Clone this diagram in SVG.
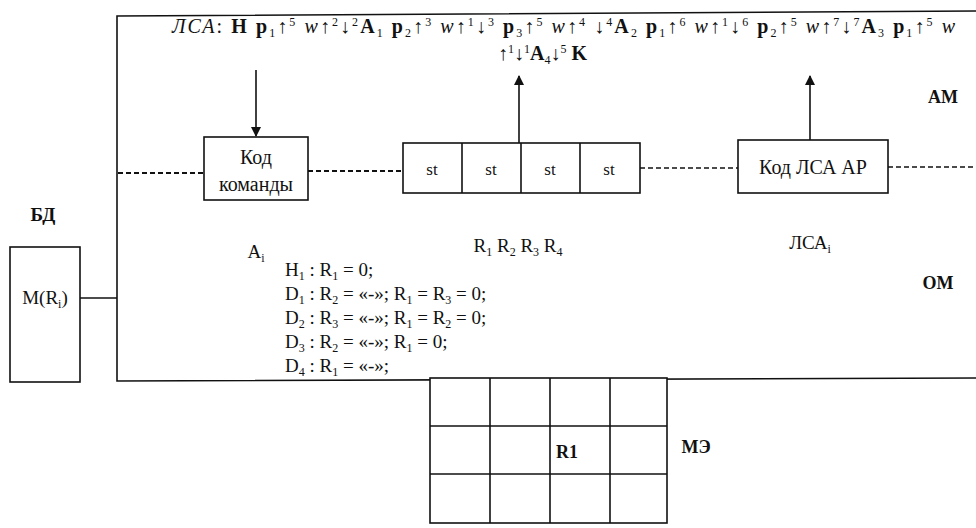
<svg xmlns="http://www.w3.org/2000/svg" width="976" height="528" viewBox="0 0 976 528">
<defs>
<marker id="ah" viewBox="0 0 10 10" refX="9" refY="5" markerWidth="10" markerHeight="11" markerUnits="userSpaceOnUse" orient="auto">
<path d="M0,0 L10,5 L0,10 z" fill="#111"/>
</marker>
<style>
.b{font-weight:bold}
.i{font-style:italic}
.s{font-size:12px}
.s12{font-size:12px}
.lbl{font-weight:bold}
.box{fill:#fff;stroke:#111;stroke-width:1.6}
.ln{fill:none;stroke:#111;stroke-width:1.6}
.dash{fill:none;stroke:#111;stroke-width:2;stroke-dasharray:5 3}
.dash2{fill:none;stroke:#111;stroke-width:1.3;stroke-dasharray:5 3}
.arr{fill:none;stroke:#111;stroke-width:1.6;marker-end:url(#ah)}
</style>
</defs>
<rect width="976" height="528" fill="#fff"/>

<g id="frame">
<path class="ln" d="M976,11 L117,16 L117,381 L976,378"/>
</g>

<g font-family="Liberation Serif, DejaVu Serif, serif" font-size="19" fill="#111">
<g id="lsa">
<text x="172" y="33" font-size="20" textLength="783" lengthAdjust="spacing"><tspan class="i">ЛСА</tspan>: <tspan class="b">Н p</tspan><tspan class="s12" dy="4">1</tspan><tspan dy="-4">↑</tspan><tspan class="s12" dy="-7">5</tspan><tspan dy="7"> </tspan><tspan class="i">w</tspan>↑<tspan class="s12" dy="-7">2</tspan><tspan dy="7">↓</tspan><tspan class="s12" dy="-7">2</tspan><tspan class="b" dy="7">A</tspan><tspan class="s12" dy="4">1</tspan><tspan class="b" dy="-4"> p</tspan><tspan class="s12" dy="4">2</tspan><tspan dy="-4">↑</tspan><tspan class="s12" dy="-7">3</tspan><tspan dy="7"> </tspan><tspan class="i">w</tspan>↑<tspan class="s12" dy="-7">1</tspan><tspan dy="7">↓</tspan><tspan class="s12" dy="-7">3</tspan><tspan class="b" dy="7"> p</tspan><tspan class="s12" dy="4">3</tspan><tspan dy="-4">↑</tspan><tspan class="s12" dy="-7">5</tspan><tspan dy="7"> </tspan><tspan class="i">w</tspan>↑<tspan class="s12" dy="-7">4</tspan><tspan dy="7"> ↓</tspan><tspan class="s12" dy="-7">4</tspan><tspan class="b" dy="7">A</tspan><tspan class="s12" dy="4">2</tspan><tspan class="b" dy="-4"> p</tspan><tspan class="s12" dy="4">1</tspan><tspan dy="-4">↑</tspan><tspan class="s12" dy="-7">6</tspan><tspan dy="7"> </tspan><tspan class="i">w</tspan>↑<tspan class="s12" dy="-7">1</tspan><tspan dy="7">↓</tspan><tspan class="s12" dy="-7">6</tspan><tspan class="b" dy="7"> p</tspan><tspan class="s12" dy="4">2</tspan><tspan dy="-4">↑</tspan><tspan class="s12" dy="-7">5</tspan><tspan dy="7"> </tspan><tspan class="i">w</tspan>↑<tspan class="s12" dy="-7">7</tspan><tspan dy="7">↓</tspan><tspan class="s12" dy="-7">7</tspan><tspan class="b" dy="7">A</tspan><tspan class="s12" dy="4">3</tspan><tspan class="b" dy="-4"> p</tspan><tspan class="s12" dy="4">1</tspan><tspan dy="-4">↑</tspan><tspan class="s12" dy="-7">5</tspan><tspan dy="7"> </tspan><tspan class="i">w</tspan></text>
<text x="498" y="60" font-size="20">↑<tspan class="s12" dy="-7">1</tspan><tspan dy="7">↓</tspan><tspan class="s12" dy="-7">1</tspan><tspan class="b" dy="7">A</tspan><tspan class="s12" dy="4">4</tspan><tspan dy="-4">↓</tspan><tspan class="s12" dy="-7">5</tspan><tspan class="b" dy="7"> K</tspan></text>
</g>

<g id="kod-komandy">
<rect class="box" x="204" y="137" width="104" height="63"/>
<text x="256" y="164" text-anchor="middle" font-size="20">Код</text>
<text x="256" y="191" text-anchor="middle" font-size="20">команды</text>
<text x="256" y="258" text-anchor="middle">A<tspan class="s" dy="4">i</tspan></text>
</g>

<g id="registers">
<rect class="box" x="403" y="143" width="237" height="50"/>
<line class="ln" x1="462" y1="143" x2="462" y2="193"/>
<line class="ln" x1="521" y1="143" x2="521" y2="193"/>
<line class="ln" x1="580" y1="143" x2="580" y2="193"/>
<text x="432" y="175" text-anchor="middle" font-size="17">st</text>
<text x="491" y="175" text-anchor="middle" font-size="17">st</text>
<text x="550" y="175" text-anchor="middle" font-size="17">st</text>
<text x="609" y="175" text-anchor="middle" font-size="17">st</text>
<text x="518" y="252" text-anchor="middle">R<tspan class="s" dy="4">1</tspan><tspan dy="-4"> R</tspan><tspan class="s" dy="4">2</tspan><tspan dy="-4"> R</tspan><tspan class="s" dy="4">3</tspan><tspan dy="-4"> R</tspan><tspan class="s" dy="4">4</tspan></text>
</g>

<g id="kod-lsa">
<rect class="box" x="738" y="140" width="150" height="53"/>
<text x="813" y="174" text-anchor="middle" font-size="20">Код ЛСА АР</text>
<text x="810" y="249" text-anchor="middle">ЛСА<tspan class="s" dy="4">i</tspan></text>
</g>

<g id="conditions">
<text x="285" y="276">H<tspan class="s" dy="4">1</tspan><tspan dy="-4"> : R</tspan><tspan class="s" dy="4">1</tspan><tspan dy="-4"> = 0;</tspan></text>
<text x="285" y="300">D<tspan class="s" dy="4">1</tspan><tspan dy="-4"> : R</tspan><tspan class="s" dy="4">2</tspan><tspan dy="-4"> = «-»; R</tspan><tspan class="s" dy="4">1</tspan><tspan dy="-4"> = R</tspan><tspan class="s" dy="4">3</tspan><tspan dy="-4"> = 0;</tspan></text>
<text x="285" y="324">D<tspan class="s" dy="4">2</tspan><tspan dy="-4"> : R</tspan><tspan class="s" dy="4">3</tspan><tspan dy="-4"> = «-»; R</tspan><tspan class="s" dy="4">1</tspan><tspan dy="-4"> = R</tspan><tspan class="s" dy="4">2</tspan><tspan dy="-4"> = 0;</tspan></text>
<text x="285" y="348">D<tspan class="s" dy="4">3</tspan><tspan dy="-4"> : R</tspan><tspan class="s" dy="4">2</tspan><tspan dy="-4"> = «-»; R</tspan><tspan class="s" dy="4">1</tspan><tspan dy="-4"> = 0;</tspan></text>
<text x="285" y="372">D<tspan class="s" dy="4">4</tspan><tspan dy="-4"> : R</tspan><tspan class="s" dy="4">1</tspan><tspan dy="-4"> = «-»;</tspan></text>
</g>

<g id="bd">
<text class="lbl" x="43" y="221" text-anchor="middle">БД</text>
<rect class="box" x="10" y="247" width="70" height="135"/>
<text x="45" y="304" text-anchor="middle">M(R<tspan class="s" dy="4">i</tspan><tspan dy="-4">)</tspan></text>
</g>

<g id="labels">
<text class="lbl" x="943" y="103" text-anchor="middle" font-size="18">AM</text>
<text class="lbl" x="938" y="289" text-anchor="middle" font-size="18">OM</text>
<text class="lbl" x="696" y="453" text-anchor="middle" font-size="18">MЭ</text>
</g>

<g id="me-grid">
<rect class="box" x="430" y="378" width="237" height="145" fill="none"/>
<line class="ln" x1="490" y1="378" x2="490" y2="523"/>
<line class="ln" x1="550" y1="378" x2="550" y2="523"/>
<line class="ln" x1="610" y1="378" x2="610" y2="523"/>
<line class="ln" x1="430" y1="426" x2="667" y2="426"/>
<line class="ln" x1="430" y1="474" x2="667" y2="474"/>
<text class="lbl" x="567" y="458" text-anchor="middle" font-size="18">R1</text>
</g>
</g>

<g id="connectors">
<line class="arr" x1="256" y1="70" x2="256" y2="136"/>
<line class="arr" x1="519" y1="143" x2="519" y2="76"/>
<line class="arr" x1="810" y1="140" x2="810" y2="76"/>
<line class="dash" x1="118" y1="173" x2="204" y2="173"/>
<line class="dash" x1="308" y1="171" x2="403" y2="171"/>
<line class="dash2" x1="640" y1="168" x2="738" y2="168"/>
<line class="dash2" x1="888" y1="167" x2="976" y2="167"/>
<line class="ln" x1="80" y1="298" x2="117" y2="298" stroke-width="1.4"/>
</g>
</svg>
